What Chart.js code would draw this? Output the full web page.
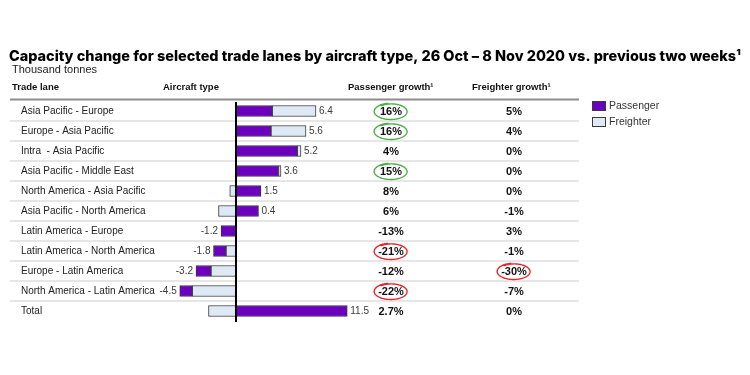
<!DOCTYPE html>
<html>
<head>
<meta charset="utf-8">
<title>Capacity change by aircraft type</title>
<script src="https://cdn.jsdelivr.net/npm/chart.js@4/dist/chart.umd.min.js"></script>
<style>
    html, body { margin: 0; padding: 0; background: #fff; }
    #capacityChart { display: block; }
</style>
</head>
<body>
<canvas id="capacityChart" width="750" height="375"></canvas>
<script>
// Rows of the table, top to bottom
const tradeLanes = [
    'Asia Pacific - Europe',
    'Europe - Asia Pacific',
    'Intra  - Asia Pacific',
    'Asia Pacific - Middle East',
    'North America - Asia Pacific',
    'Asia Pacific - North America',
    'Latin America - Europe',
    'Latin America - North America',
    'Europe - Latin America',
    'North America - Latin America',
    'Total'
];

// Thousand tonnes
const passengerChange = [2.9, 2.8, 4.9, 3.4, 2.0, 1.8, -1.2, -1.0, -1.2, -1.0, 8.9];
const freighterChange = [3.5, 2.8, 0.3, 0.2, -0.5, -1.4, 0, -0.8, -2.0, -3.5, -2.2];
const netLabels = ['6.4', '5.6', '5.2', '3.6', '1.5', '0.4', '-1.2', '-1.8', '-3.2', '-4.5', '11.5'];

const passengerGrowth = ['16%', '16%', '4%', '15%', '8%', '6%', '-13%', '-21%', '-12%', '-22%', '2.7%'];
const freighterGrowth = ['5%', '4%', '0%', '0%', '0%', '-1%', '3%', '-1%', '-30%', '-7%', '0%'];
// 1 = circled as a gain, -1 = circled as a loss
const passengerCircled = [1, 1, 0, 1, 0, 0, 0, -1, 0, -1, 0];
const freighterCircled = [0, 0, 0, 0, 0, 0, 0, 0, -1, 0, 0];

const xRange = { min: -6, max: 9 };

const COLORS = {
    passenger: '#6C00BF',
    freighter: '#DDEAF6',
    barBorder: '#3A3A3A',
    rule: '#8C8C8C',
    separator: '#DEDEDE',
    good: '#4DAE4A',
    bad: '#E8262C'
};
const FONT = '"Liberation Sans", Arial, sans-serif';

// Positive parts stack passenger first, negative parts stack freighter first
function rowRanges(i) {
    const p = passengerChange[i];
    const f = freighterChange[i];
    let pos = 0, neg = 0, pRange = null, fRange = null;
    if (p > 0) { pRange = [0, p]; pos = p; }
    if (f > 0) { fRange = [pos, pos + f]; pos += f; }
    if (f < 0) { fRange = [f, 0]; neg = f; }
    if (p < 0) { pRange = [neg + p, neg]; neg += p; }
    return { pRange, fRange, pos, neg };
}

const ranges = tradeLanes.map((_, i) => rowRanges(i));

function drawLoop(ctx, cx, cy, color) {
    const rx = 15.5, ry = 7.5, a0 = -2.3;
    ctx.save();
    ctx.strokeStyle = color;
    ctx.lineWidth = 1.4;
    ctx.beginPath();
    for (let t = 0; t <= Math.PI * 2 + 0.6; t += 0.05) {
        const s = 1 + 0.1 * t / (Math.PI * 2);
        const px = cx + rx * s * Math.cos(a0 + t);
        const py = cy + ry * s * Math.sin(a0 + t);
        if (t === 0) ctx.moveTo(px, py); else ctx.lineTo(px, py);
    }
    ctx.stroke();
    ctx.restore();
}

const tableDecor = {
    id: 'tableDecor',
    beforeDatasetsDraw(chart) {
        const { ctx, scales: { y } } = chart;
        ctx.save();
        // header rule
        ctx.strokeStyle = COLORS.rule;
        ctx.lineWidth = 2;
        ctx.beginPath();
        ctx.moveTo(10, 99.5);
        ctx.lineTo(579, 99.5);
        ctx.stroke();
        // row separators
        ctx.strokeStyle = COLORS.separator;
        ctx.lineWidth = 1.5;
        for (let i = 0; i < tradeLanes.length - 1; i++) {
            const yy = (y.getPixelForValue(i) + y.getPixelForValue(i + 1)) / 2;
            ctx.beginPath();
            ctx.moveTo(10, yy);
            ctx.lineTo(579, yy);
            ctx.stroke();
        }
        ctx.restore();
    },
    afterDatasetsDraw(chart) {
        const { ctx, chartArea, scales: { x, y } } = chart;
        const x0 = x.getPixelForValue(0);
        ctx.save();

        // zero axis
        ctx.strokeStyle = '#000';
        ctx.lineWidth = 2;
        ctx.beginPath();
        ctx.moveTo(x0, chartArea.top + 1);
        ctx.lineTo(x0, chartArea.bottom + 1);
        ctx.stroke();

        // net value labels
        ctx.font = '10px ' + FONT;
        ctx.fillStyle = '#3C3C3C';
        ctx.textBaseline = 'middle';
        tradeLanes.forEach((_, i) => {
            const yy = y.getPixelForValue(i);
            if (parseFloat(netLabels[i]) >= 0) {
                ctx.textAlign = 'left';
                ctx.fillText(netLabels[i], x.getPixelForValue(ranges[i].pos) + 3, yy);
            } else {
                ctx.textAlign = 'right';
                ctx.fillText(netLabels[i], x.getPixelForValue(ranges[i].neg) - 3, yy);
            }
        });

        // growth columns
        ctx.font = 'bold 11px ' + FONT;
        ctx.fillStyle = '#111';
        ctx.textAlign = 'center';
        tradeLanes.forEach((_, i) => {
            const yy = y.getPixelForValue(i) + 0.5;
            ctx.fillText(passengerGrowth[i], 391, yy);
            ctx.fillText(freighterGrowth[i], 514, yy);
            if (passengerCircled[i]) drawLoop(ctx, 391, yy, passengerCircled[i] > 0 ? COLORS.good : COLORS.bad);
            if (freighterCircled[i]) drawLoop(ctx, 514, yy, freighterCircled[i] > 0 ? COLORS.good : COLORS.bad);
        });

        // title block
        ctx.textAlign = 'left';
        ctx.fillStyle = '#000';
        ctx.font = '800 14.45px Inter, sans-serif';
        ctx.fillText('Capacity change for selected trade lanes by aircraft type, 26 Oct \u2013 8 Nov 2020 vs. previous two weeks\u00B9', 9, 57);
        ctx.font = '11px ' + FONT;
        ctx.fillStyle = '#222';
        ctx.fillText('Thousand tonnes', 12, 70);

        // column headers
        ctx.font = 'bold 9.5px ' + FONT;
        ctx.fillStyle = '#111';
        ctx.fillText('Trade lane', 12, 87);
        ctx.fillText('Aircraft type', 163, 87);
        ctx.fillText('Passenger growth\u00B9', 348, 87);
        ctx.fillText('Freighter growth\u00B9', 472, 87);

        // legend
        const legendItems = [['Passenger', COLORS.passenger], ['Freighter', COLORS.freighter]];
        ctx.font = '10.5px ' + FONT;
        legendItems.forEach(([name, fill], k) => {
            const top = 101 + k * 16;
            ctx.fillStyle = fill;
            ctx.fillRect(592, top, 14, 10);
            ctx.strokeStyle = COLORS.barBorder;
            ctx.lineWidth = 1;
            ctx.strokeRect(592.5, top + 0.5, 13, 9);
            ctx.fillStyle = '#333';
            ctx.fillText(name, 609, top + 5.5);
        });

        ctx.restore();
    }
};

const barStyle = {
    borderColor: COLORS.barBorder,
    borderWidth: 1,
    borderSkipped: false,
    barThickness: 11,
    grouped: false
};

new Chart(document.getElementById('capacityChart'), {
    type: 'bar',
    data: {
        labels: tradeLanes,
        datasets: [
            {
                label: 'Passenger',
                data: ranges.map(r => r.pRange),
                backgroundColor: COLORS.passenger,
                ...barStyle
            },
            {
                label: 'Freighter',
                data: ranges.map(r => r.fRange),
                backgroundColor: COLORS.freighter,
                ...barStyle
            }
        ]
    },
    options: {
        indexAxis: 'y',
        responsive: false,
        animation: false,
        devicePixelRatio: 1,
        layout: {
            // zero line at x=236, 12.5px per thousand tonnes
            padding: { left: 21, right: 401.5, top: 101, bottom: 54 }
        },
        plugins: {
            legend: { display: false },
            tooltip: { enabled: false }
        },
        scales: {
            x: {
                type: 'linear',
                min: xRange.min,
                max: xRange.max,
                display: false
            },
            y: {
                grid: { display: false },
                border: { display: false },
                ticks: {
                    crossAlign: 'far',
                    padding: 0,
                    color: '#222',
                    font: { family: FONT, size: 10 }
                },
                afterFit(axis) {
                    axis.width = 140;
                }
            }
        }
    },
    plugins: [tableDecor]
});
</script>
</body>
</html>
